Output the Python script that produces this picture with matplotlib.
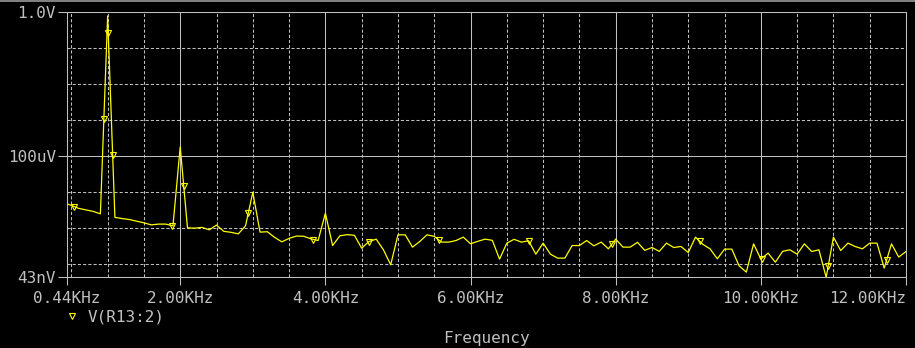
import matplotlib
matplotlib.use('Agg')
import matplotlib.pyplot as plt
from matplotlib.lines import Line2D
from matplotlib.patches import Rectangle
from matplotlib.ticker import NullFormatter

# spectrum of V(R13:2)
freq_khz = [0.44, 0.5, 0.6, 0.7, 0.8, 0.9, 1.0, 1.1, 1.2, 1.3, 1.4, 1.5, 1.6, 1.7, 1.8, 1.9,
            2.0, 2.1, 2.2, 2.3, 2.4, 2.5, 2.6, 2.7, 2.8, 2.9, 3.0, 3.1, 3.2, 3.3, 3.4, 3.5,
            3.6, 3.7, 3.8, 3.9, 4.0, 4.1, 4.2, 4.3, 4.4, 4.5, 4.6, 4.7, 4.8, 4.9, 5.0, 5.1,
            5.2, 5.3, 5.4, 5.5, 5.6, 5.7, 5.8, 5.9, 6.0, 6.1, 6.2, 6.3, 6.4, 6.5, 6.6, 6.7,
            6.8, 6.9, 7.0, 7.1, 7.2, 7.3, 7.4, 7.5, 7.6, 7.7, 7.8, 7.9, 8.0, 8.1, 8.2, 8.3,
            8.4, 8.5, 8.6, 8.7, 8.8, 8.9, 9.0, 9.1, 9.2, 9.3, 9.4, 9.5, 9.6, 9.7, 9.8, 9.9,
            10.0, 10.1, 10.2, 10.3, 10.4, 10.5, 10.6, 10.7, 10.8, 10.9, 11.0, 11.1, 11.2,
            11.3, 11.4, 11.5, 11.6, 11.7, 11.8, 11.9, 12.0]
volts = [4.64e-6, 4.22e-6, 3.48e-6, 3.16e-6, 2.87e-6, 2.45e-6, 0.774, 1.96e-6, 1.81e-6,
         1.70e-6, 1.53e-6, 1.38e-6, 1.21e-6, 1.27e-6, 1.27e-6, 1.14e-6,
         1.78e-4, 1.0e-6, 9.8e-7, 1.03e-6, 8.8e-7, 1.19e-6, 8.0e-7, 7.5e-7, 6.8e-7, 1.14e-6,
         9.7e-6, 7.6e-7, 7.8e-7, 5.45e-7, 4.08e-7, 5.1e-7, 5.9e-7, 5.85e-7, 4.95e-7, 4.44e-7,
         2.56e-6, 3.22e-7, 6.0e-7, 6.47e-7, 6.19e-7, 2.73e-7, 4.16e-7, 4.85e-7, 2.45e-7, 9.4e-8,
         6.4e-7, 6.4e-7, 2.91e-7, 4.16e-7, 6.4e-7, 5.8e-7, 4.01e-7, 4.01e-7, 4.44e-7, 5.52e-7,
         3.59e-7, 4.22e-7, 4.85e-7, 4.5e-7, 1.35e-7, 3.76e-7, 4.8e-7, 4.01e-7, 4.36e-7, 1.86e-7,
         3.76e-7, 1.86e-7, 1.44e-7, 1.44e-7, 3.22e-7, 3.22e-7, 4.44e-7, 3.16e-7, 4.01e-7, 2.61e-7,
         4.85e-7, 2.91e-7, 2.91e-7, 3.96e-7, 2.37e-7, 2.84e-7, 2.22e-7, 3.76e-7, 2.84e-7, 3.03e-7,
         2.06e-7, 5.52e-7, 3.48e-7, 2.61e-7, 1.38e-7, 2.56e-7, 2.56e-7, 8.8e-8, 5.88e-8, 3.59e-7,
         1.35e-7, 1.98e-7, 1.11e-7, 2.22e-7, 2.45e-7, 1.86e-7, 3.59e-7, 2.2e-7, 2.45e-7, 4.2e-8,
         5.52e-7, 2.34e-7, 3.76e-7, 3.03e-7, 2.61e-7, 3.76e-7, 3.76e-7, 7.6e-8, 3.59e-7, 1.54e-7,
         2.2e-7]

# trace symbols sit along the line
marker_khz = [0.535, 0.948, 1.008, 1.068, 1.885, 2.048, 2.937, 3.833, 4.6, 5.569,
              6.805, 7.944, 9.161, 10.02, 10.925, 11.734]
marker_volts = [3.91e-6, 1.07e-3, 0.261, 1.07e-4, 1.16e-6, 1.50e-5, 2.66e-6, 4.64e-7,
                4.16e-7, 4.64e-7, 4.44e-7, 3.6e-7, 4.36e-7, 1.35e-7, 8.8e-8, 1.29e-7]

x_ticks = [0.44, 2.0, 4.0, 6.0, 8.0, 10.0, 12.0]
x_labels = ['0.44KHz', '2.00KHz', '4.00KHz', '6.00KHz', '8.00KHz', '10.00KHz', '12.00KHz']
x_minor = [0.5, 1.0, 1.5, 2.5, 3.0, 3.5, 4.5, 5.0, 5.5, 6.5, 7.0, 7.5,
           8.5, 9.0, 9.5, 10.5, 11.0, 11.5]
y_ticks = [43e-9, 100e-6, 1.0]
y_labels = ['43nV', '100uV', '1.0V']
y_minor = [1e-7, 1e-6, 1e-5, 1e-3, 1e-2, 1e-1]

GREY = '#c0c0c0'
YELLOW = '#ffff00'
W, H = 915, 348

plt.rcParams['font.family'] = ['DejaVu Sans Mono']
plt.rcParams['font.size'] = 11.5

fig = plt.figure(figsize=(W / 100, H / 100), dpi=100, facecolor='black')
ax = fig.add_axes([67 / W, 1 - 277 / H, (906 - 67) / W, (277 - 12) / H], facecolor='black')
ax.set_yscale('log')
ax.set_xlim(0.44, 12.0)
ax.set_ylim(43e-9, 1.0)

ax.plot(freq_khz, volts, color=YELLOW, lw=0.9)
ax.plot(marker_khz, marker_volts, ls='none', marker='v', ms=4.5,
        mfc='none', mec=YELLOW, mew=0.8)

ax.set_xticks(x_ticks, labels=x_labels)
ax.set_xticks(x_minor, minor=True)
ax.set_yticks(y_ticks, labels=y_labels)
ax.set_yticks(y_minor, minor=True)
ax.yaxis.set_minor_formatter(NullFormatter())
ax.get_xticklabels()[-1].set_horizontalalignment('right')

ax.grid(which='major', color=GREY, lw=0.75, ls='-')
ax.grid(which='minor', color=GREY, lw=0.75, ls=(0, (3, 2)))
ax.tick_params(which='minor', length=0)
ax.tick_params(axis='x', which='major', direction='out', length=5.8, width=0.75,
               color=GREY, labelcolor=GREY, pad=4)
ax.tick_params(axis='y', which='major', direction='out', length=6.5, width=0.75,
               color=GREY, labelcolor=GREY, pad=1.5)
for s in ax.spines.values():
    s.set_color(GREY)
    s.set_linewidth(0.75)

handle = Line2D([], [], ls='none', marker='v', ms=4.5, mfc='none', mec=YELLOW, mew=0.8)
fig.legend([handle], ['V(R13:2)'], loc='center left', bbox_to_anchor=(66 / W, 1 - 317.5 / H),
           frameon=False, handlelength=0.8, handletextpad=0.55, borderpad=0,
           borderaxespad=0, labelcolor=GREY)
fig.text(486.5 / W, 1 - 338.5 / H, 'Frequency', ha='center', va='center', color=GREY)

# window border strip at the top
fig.add_artist(Rectangle((0, 1 - 1.5 / H), 1, 1.5 / H, transform=fig.transFigure,
                         color='#808080', lw=0))

fig.savefig('out.png', dpi=100, facecolor='black')
plt.close(fig)
